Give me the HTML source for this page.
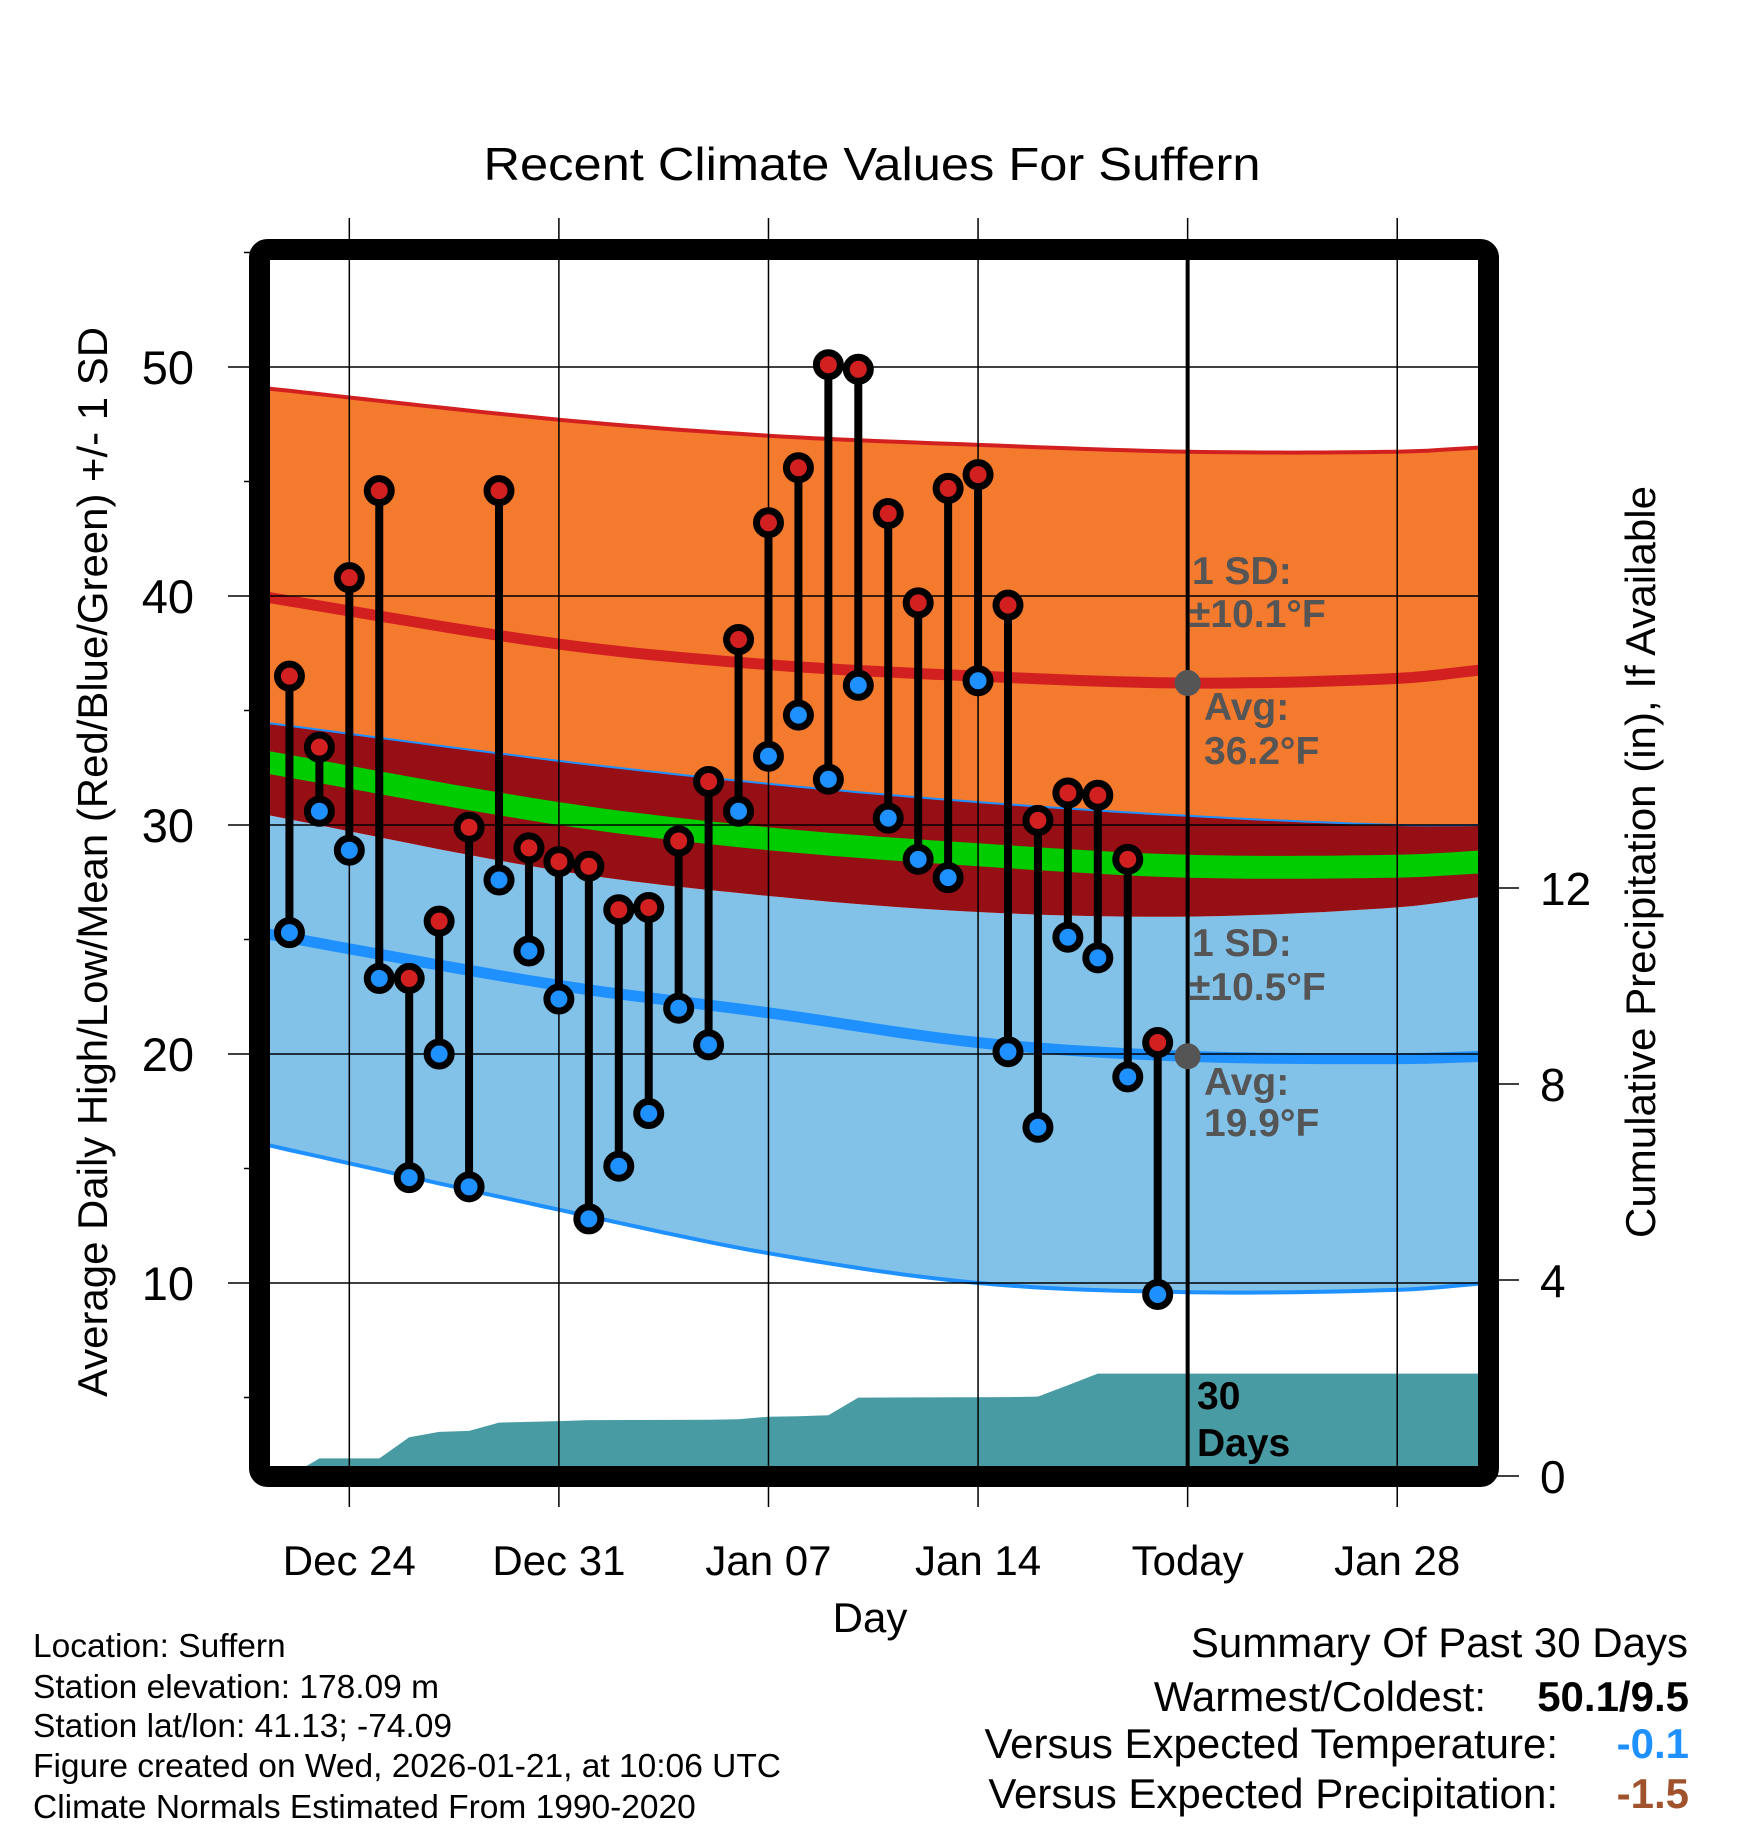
<!DOCTYPE html>
<html><head><meta charset="utf-8"><style>
html,body{margin:0;padding:0;background:#fff;}
svg text{font-family:"Liberation Sans",sans-serif;}
</style></head><body>
<svg id="chart" width="1748" height="1828" viewBox="0 0 1748 1828" xmlns="http://www.w3.org/2000/svg">
<defs><clipPath id="plotclip"><rect x="270" y="260" width="1208" height="1206"/></clipPath></defs>
<text x="872" y="180" font-size="46" text-anchor="middle" textLength="777" lengthAdjust="spacingAndGlyphs">Recent Climate Values For Suffern</text>
<g id="fills" clip-path="url(#plotclip)"></g>
<g id="grid"></g>
<g id="marks" clip-path="url(#plotclip)"></g>
<rect x="259.5" y="249.5" width="1229" height="1227" rx="8" fill="none" stroke="#000" stroke-width="21"/>
<g id="labels"></g>
<text transform="translate(107,862) rotate(-90)" font-size="42" text-anchor="middle" textLength="1070" lengthAdjust="spacingAndGlyphs">Average Daily High/Low/Mean (Red/Blue/Green) +/- 1 SD</text>
<text transform="translate(1655,862) rotate(-90)" font-size="42" text-anchor="middle" textLength="752" lengthAdjust="spacingAndGlyphs">Cumulative Precipitation (in), If Available</text>
<text x="870" y="1632" font-size="42" text-anchor="middle">Day</text>
<g font-weight="bold" font-size="39" fill="#555">
<text x="1192" y="584">1 SD:</text><text x="1189" y="627">±10.1°F</text>
<text x="1204" y="720">Avg:</text><text x="1204" y="764">36.2°F</text>
<text x="1192" y="956">1 SD:</text><text x="1189" y="1000">±10.5°F</text>
<text x="1204" y="1095">Avg:</text><text x="1204" y="1136">19.9°F</text>
</g>
<g font-weight="bold" font-size="39" fill="#000">
<text x="1197" y="1409">30</text><text x="1197" y="1456">Days</text>
</g>
<g font-size="33.5" fill="#000">
<text x="33" y="1657">Location: Suffern</text>
<text x="33" y="1698">Station elevation: 178.09 m</text>
<text x="33" y="1737">Station lat/lon: 41.13; -74.09</text>
<text x="33" y="1777">Figure created on Wed, 2026-01-21, at 10:06 UTC</text>
<text x="33" y="1818">Climate Normals Estimated From 1990-2020</text>
</g>
<g font-size="42" fill="#000" text-anchor="end">
<text x="1688" y="1657">Summary Of Past 30 Days</text>
<text x="1486" y="1711">Warmest/Coldest:</text>
<text x="1689" y="1711" font-weight="bold">50.1/9.5</text>
<text x="1558" y="1758">Versus Expected Temperature:</text>
<text x="1689" y="1758" font-weight="bold" fill="#1E90FF">-0.1</text>
<text x="1558" y="1808">Versus Expected Precipitation:</text>
<text x="1689" y="1808" font-weight="bold" fill="#A0522D">-1.5</text>
</g>
</svg>
<script>
// observed data, day index 1 = Dec 22 ... 30 = Jan 20
const obsDays = [1,2,3,4,5,6,7,8,9,10,11,12,13,14,15,16,17,18,19,20,21,22,23,24,25,26,27,28,29,30];
const highs = [36.5,33.4,40.8,44.6,23.3,25.8,29.9,44.6,29.0,28.4,28.2,26.3,26.4,29.3,31.9,38.1,43.2,45.6,50.1,49.9,43.6,39.7,44.7,45.3,39.6,30.2,31.4,31.3,28.5,20.5];
const lows = [25.3,30.6,28.9,23.3,14.6,20.0,14.2,27.6,24.5,22.4,12.8,15.1,17.4,22.0,20.4,30.6,33.0,34.8,32.0,36.1,30.3,28.5,27.7,36.3,20.1,16.8,25.1,24.2,19.0,9.5];
// normals knots (day 0 = Dec 21)
const normDays = [0,10,17,24,31,38,41];
const highPlus = [49.1,47.7,47.0,46.6,46.3,46.3,46.5];
const highMean = [40.0,37.9,37.0,36.5,36.2,36.4,36.8];
const highMinus = [34.5,32.8,31.8,31.0,30.4,30.0,30.0];
const meanT = [32.8,30.5,29.4,28.7,28.2,28.2,28.4];
const lowPlus = [30.5,28.0,26.9,26.2,26.0,26.4,26.9];
const lowMean = [25.3,23.0,21.8,20.5,19.9,19.8,19.9];
const lowMinus = [16.1,13.2,11.3,10.0,9.6,9.7,10.0];
// cumulative precipitation
const precipDays = [0,1,2,4,5,6,7,8,10,11,15,16,17,18,19,20,25,26,27,28,41];
const precipCum = [0,0,0.36,0.36,0.79,0.9,0.92,1.09,1.12,1.14,1.15,1.16,1.21,1.22,1.24,1.6,1.61,1.62,1.85,2.09,2.09];
const xTickDays = [3,10,17,24,31,38];
const xTickLabels = ["Dec 24","Dec 31","Jan 07","Jan 14","Today","Jan 28"];
const yTicks = [10,20,30,40,50];
const precipTicks = [0,4,8,12];
const todayDay = 31;

const NS="http://www.w3.org/2000/svg";
const X = d => 259.5 + d*29.94;
const Y = t => 367 + (50 - t)*22.9;
const P = p => 1476 - p*49;
function el(tag, attrs, parent){const e=document.createElementNS(NS,tag);for(const k in attrs)e.setAttribute(k,attrs[k]);parent.appendChild(e);return e;}
function interp(days, vals, d){for(let i=0;i<days.length-1;i++){if(d<=days[i+1]){const f=(d-days[i])/(days[i+1]-days[i]);return vals[i]+f*(vals[i+1]-vals[i]);}}return vals[vals.length-1];}
function smooth(days, vals, d){
  // Catmull-Rom style cubic Hermite interpolation
  const n=days.length;let i=0;while(i<n-2&&d>days[i+1])i++;
  const x0=days[i],x1=days[i+1],h=x1-x0,t=(d-x0)/h;
  const slope=k=>{if(k<=0)return (vals[1]-vals[0])/(days[1]-days[0]);if(k>=n-1)return (vals[n-1]-vals[n-2])/(days[n-1]-days[n-2]);return (vals[k+1]-vals[k-1])/(days[k+1]-days[k-1]);};
  const m0=slope(i)*h,m1=slope(i+1)*h,t2=t*t,t3=t2*t;
  return (2*t3-3*t2+1)*vals[i]+(t3-2*t2+t)*m0+(-2*t3+3*t2)*vals[i+1]+(t3-t2)*m1;
}
function curve(vals, off){const pts=[];for(let d=0;d<=41;d+=0.5)pts.push([X(d),Y(smooth(normDays,vals,d)+(off||0))]);return pts;}
function ptsStr(p){return p.map(q=>q[0].toFixed(1)+","+q[1].toFixed(1)).join(" ");}
function band(a,b){return ptsStr(a.concat(b.slice().reverse()));}
const fills=document.getElementById('fills'), grid=document.getElementById('grid'), marks=document.getElementById('marks'), labels=document.getElementById('labels');

let e;
e=el('polygon',{points:band(curve(highPlus),curve(highMinus)),fill:'#F47A2E'},fills);


e=el('polygon',{points:band(curve(lowPlus),curve(lowMinus)),fill:'#82C1E8'},fills);


e=el('polygon',{points:band(curve(highMinus),curve(lowPlus)),fill:'#960F14'},fills);


e=el('polygon',{points:band(curve(meanT,0.5),curve(meanT,-0.5)),fill:'#00CC00'},fills);


e=el('polyline',{points:ptsStr(curve(highPlus)),fill:'none',stroke:'#D22020','stroke-width':4},fills);


e=el('polyline',{points:ptsStr(curve(highMinus)),fill:'none',stroke:'#1E90FF','stroke-width':2},fills);


e=el('polyline',{points:ptsStr(curve(lowMinus)),fill:'none',stroke:'#1E90FF','stroke-width':4},fills);


e=el('polyline',{points:ptsStr(curve(highMean)),fill:'none',stroke:'#D22020','stroke-width':11},fills);


e=el('polyline',{points:ptsStr(curve(lowMean)),fill:'none',stroke:'#1E90FF','stroke-width':11},fills);


// precip area
const pp=[[X(0),P(0)]];
for(let i=0;i<precipDays.length;i++)pp.push([X(precipDays[i]),P(precipCum[i])]);
pp.push([X(41),P(0)]);
e=el('polygon',{points:ptsStr(pp),fill:'#489BA3'},fills);



// grid
yTicks.forEach(t=>{
  e=el('line',{x1:228,x2:1488,y1:Y(t),y2:Y(t),stroke:'#000','stroke-width':1.5},grid);
  
  
  e=el('text',{x:194,y:Y(t)+17,'font-size':47,'text-anchor':'end'},labels);
  e.textContent=t;
  
  
});
for(let t=5;t<=55;t+=10){
  e=el('line',{x1:244,x2:260,y1:Y(t),y2:Y(t),stroke:'#000','stroke-width':1.5},grid);
  
  
}
xTickDays.forEach((d,i)=>{
  e=el('line',{x1:X(d),x2:X(d),y1:218,y2:1507,stroke:'#000','stroke-width':1.5},grid);
  
  
  e=el('text',{x:X(d),y:1575,'font-size':42,'text-anchor':'middle'},labels);
  e.textContent=xTickLabels[i];
  
  
});
precipTicks.forEach(p=>{
  e=el('line',{x1:1488,x2:1519,y1:P(p),y2:P(p),stroke:'#000','stroke-width':1.5},grid);
  
  
  e=el('text',{x:1540,y:P(p)+17,'font-size':46,'text-anchor':'start'},labels);
  e.textContent=p;
  
  
});

// today line
e=el('line',{x1:X(todayDay),x2:X(todayDay),y1:260,y2:1466,stroke:'#000','stroke-width':4},marks);


// stems
obsDays.forEach((d,i)=>{
  e=el('line',{x1:X(d),x2:X(d),y1:Y(highs[i]),y2:Y(lows[i]),stroke:'#000','stroke-width':8},marks);
  
  
});
obsDays.forEach((d,i)=>{
  e=el('circle',{cx:X(d),cy:Y(highs[i]),r:12,fill:'#D22020',stroke:'#000','stroke-width':7},marks);
  
  
  e=el('circle',{cx:X(d),cy:Y(lows[i]),r:12,fill:'#1E90FF',stroke:'#000','stroke-width':7},marks);
  
  
});
e=el('circle',{cx:X(todayDay),cy:Y(smooth(normDays,highMean,todayDay)),r:13,fill:'#555'},marks);


e=el('circle',{cx:X(todayDay),cy:Y(smooth(normDays,lowMean,todayDay)),r:13,fill:'#555'},marks);


</script>
</body></html>
